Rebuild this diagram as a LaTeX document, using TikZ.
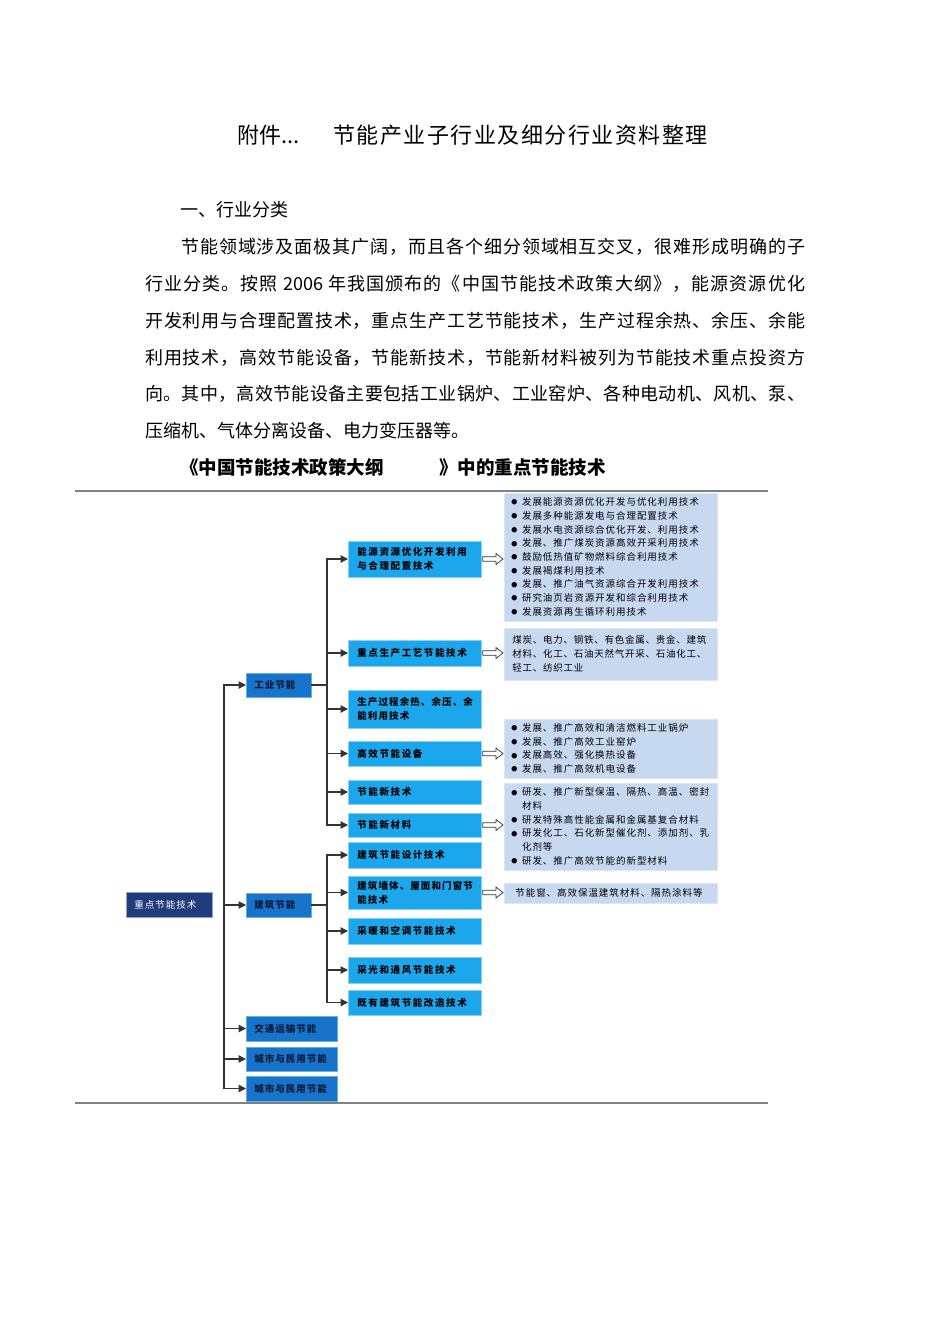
\documentclass[tikz,border=0pt]{standalone}
\usepackage{fontspec}
\setmainfont{Noto Sans CJK SC}
\newfontfamily\txtfont{Noto Sans CJK SC}
\usetikzlibrary{arrows.meta,calc}
\definecolor{rootc}{HTML}{203C7A}
\definecolor{rootedge}{HTML}{8FA2C8}
\definecolor{lonec}{HTML}{1874C8}
\definecolor{loneedge}{HTML}{66AEE8}
\definecolor{ltwoc}{HTML}{1CA6EC}
\definecolor{ltwoedge}{HTML}{88D0F4}
\definecolor{detc}{HTML}{C6D9F1}
\definecolor{detedge}{HTML}{DCE7F4}
\definecolor{linec}{HTML}{333333}
\definecolor{rulec}{HTML}{808080}
\definecolor{navytext}{HTML}{0B1A3A}
\newdimen\lsgap
\newcommand{\setls}[1]{\global\lsgap #1\relax}
\makeatletter
% letter-spaced text: a kern of \lsgap after every character
\newcommand{\ls}[1]{\@tfor\ls@tok:=#1\do{\ls@tok\kern\lsgap}\unkern}
% a line spread to a given width (justified)
\newcommand{\spreadline}[2]{\hbox to #1{\@tfor\sp@tok:=#2\do{\sp@tok\hfil}\unskip}}
\makeatother
\newcommand{\bul}{\makebox[13.7pt][l]{\hspace*{3pt}\raisebox{0.8pt}{\fontsize{6}{6}\selectfont ●}}}
\newcommand{\hollowarrow}[2]{\draw[hollow] let \p1=(#1.east), \p2=(#2.west) in
  (\x1+1pt,\y1+2.3pt) -- (\x2-8pt,\y1+2.3pt) -- (\x2-8pt,\y1+5.5pt) -- (\x2-1pt,\y1)
  -- (\x2-8pt,\y1-5.5pt) -- (\x2-8pt,\y1-2.3pt) -- (\x1+1pt,\y1-2.3pt) -- cycle;}
\begin{document}
\begin{tikzpicture}[x=1pt,y=-1pt,
  bodyfs/.style={font=\txtfont\fontsize{18}{18}\selectfont},
  bodyline/.style={bodyfs, anchor=base west, inner sep=0pt},
  capline/.style={anchor=base west, inner sep=0pt, font=\txtfont\bfseries\fontsize{18.5}{18.5}\selectfont},
  titleline/.style={anchor=base west, inner sep=0pt, font=\txtfont\fontsize{22}{22}\selectfont},
  rootbox/.style={rectangle, fill=rootc, draw=rootedge, line width=0.8pt, text=white,
    font=\txtfont\fontsize{9.5}{12}\selectfont, inner xsep=8pt, inner ysep=0pt, align=left, anchor=west},
  lonebox/.style={rectangle, fill=lonec, draw=loneedge, line width=0.8pt, text=navytext,
    font=\txtfont\bfseries\fontsize{9.5}{12}\selectfont, inner xsep=8pt, inner ysep=0pt, align=left, anchor=west},
  ltwobox/.style={rectangle, fill=ltwoc, draw=ltwoedge, line width=0.8pt, text=black,
    font=\txtfont\bfseries\fontsize{9.5}{14}\selectfont, inner xsep=9pt, inner ysep=0pt, align=left,
    anchor=west, text width=115pt},
  detbox/.style={rectangle, fill=detc, draw=detedge, line width=0.8pt, text=black,
    font=\txtfont\fontsize{9.5}{13.7}\selectfont, inner xsep=4pt, inner ysep=0pt, align=left,
    anchor=west, text width=205pt},
  conn/.style={draw=linec, line width=1.2pt, line cap=rect},
  arr/.style={draw=linec, line width=1.2pt, -{Triangle[length=7.5pt,width=7.5pt]}},
  hollow/.style={draw=linec, line width=0.7pt, fill=white, line join=miter}
]
\useasboundingbox (0,0) rectangle (950,1344);
\fill[white] (0,0) rectangle (950,1344);

% ---------- title and text ----------
\setls{1.5pt}
\node[titleline] (titleA) at (237,143.4) {附件...};
\node[titleline] (titleB) at (333,143.4) {\ls{节能产业子行业及细分行业资料整理}};

\node[bodyline] (head) at (180,216.8) {一、行业分类};

\node[bodyline] (p1) at (181,253.8) {\spreadline{624pt}{节能领域涉及面极其广阔，而且各个细分领域相互交叉，很难形成明确的子}};
\node[bodyline] (p2) at (145,290.8) {\spreadline{660pt}{行业分类。按照{\ 2006\ }年我国颁布的《中国节能技术政策大纲》，能源资源优化}};
\node[bodyline] (p3) at (145,327.8) {\spreadline{660pt}{开发利用与合理配置技术，重点生产工艺节能技术，生产过程余热、余压、余能}};
\node[bodyline] (p4) at (145,364.8) {\spreadline{660pt}{利用技术，高效节能设备，节能新技术，节能新材料被列为节能技术重点投资方}};
\node[bodyline] (p5) at (145,400.8) {\spreadline{660pt}{向。其中，高效节能设备主要包括工业锅炉、工业窑炉、各种电动机、风机、泵、}};
\node[bodyline] (p6) at (145,437.8) {压缩机、气体分离设备、电力变压器等。};

\node[capline] (capA) at (180,474) {《中国节能技术政策大纲};
\node[capline] (capB) at (439,474) {》中的重点节能技术};

\draw[rulec, line width=1.2pt] (75,491) -- (768,491);
\draw[rulec, line width=1.2pt] (75,1103) -- (768,1103);

% ---------- root and level 1 ----------
\setls{1pt}
\node[rootbox, text width=70pt, minimum height=25pt] (root) at (126,905) {\ls{重点节能技术}};
\node[lonebox, text width=49pt, minimum height=24pt] (ind) at (246,685) {\ls{工业节能}};
\node[lonebox, text width=49pt, minimum height=24pt] (bld) at (246,905) {\ls{建筑节能}};
\node[lonebox, text width=75pt, minimum height=25pt] (trn) at (246,1028.5) {\ls{交通运输节能}};
\node[lonebox, text width=75pt, minimum height=24pt] (cityA) at (246,1059) {\ls{城市与民用节能}};
\node[lonebox, text width=75pt, minimum height=25pt] (cityB) at (246,1088.5) {\ls{城市与民用节能}};

% ---------- level 2 : industry ----------
\setls{1.6pt}
\node[ltwobox, minimum height=36pt] (a1) at (348,559) {\ls{能源资源优化开发利用}\\\ls{与合理配置技术}};
\node[ltwobox, minimum height=26pt] (a2) at (348,653) {\ls{重点生产工艺节能技术}};
\node[ltwobox, minimum height=25pt] (a4) at (348,753.5) {\ls{高效节能设备}};
\node[ltwobox, minimum height=24pt] (a5) at (348,792) {\ls{节能新技术}};
\node[ltwobox, minimum height=24pt] (a6) at (348,825) {\ls{节能新材料}};

% ---------- level 2 : building ----------
\node[ltwobox, minimum height=26pt] (b1) at (348,855) {\ls{建筑节能设计技术}};
\node[ltwobox, minimum height=26pt] (b3) at (348,931) {\ls{采暖和空调节能技术}};
\node[ltwobox, minimum height=26pt] (b4) at (348,970) {\ls{采光和通风节能技术}};
\node[ltwobox, minimum height=25pt] (b5) at (348,1002.5) {\ls{既有建筑节能改造技术}};

\setls{1.1pt}
\node[ltwobox, minimum height=38pt] (a3) at (348,709) {\ls{生产过程余热、余压、余}\\\ls{能利用技术}};
\node[ltwobox, minimum height=33pt] (b2) at (348,892.5) {\ls{建筑墙体、屋面和门窗节}\\\ls{能技术}};

% ---------- detail boxes ----------
\setls{0.95pt}
\node[detbox, minimum height=128pt] (d1) at (504,557) {%
\bul\ls{发展能源资源优化开发与优化利用技术}\\
\bul\ls{发展多种能源发电与合理配置技术}\\
\bul\ls{发展水电资源综合优化开发、利用技术}\\
\bul\ls{发展、推广煤炭资源高效开采利用技术}\\
\bul\ls{鼓励低热值矿物燃料综合利用技术}\\
\bul\ls{发展褐煤利用技术}\\
\bul\ls{发展、推广油气资源综合开发利用技术}\\
\bul\ls{研究油页岩资源开发和综合利用技术}\\
\bul\ls{发展资源再生循环利用技术}};
\node[detbox, minimum height=59pt] (d3) at (504,748.5) {%
\bul\ls{发展、推广高效和清洁燃料工业锅炉}\\
\bul\ls{发展、推广高效工业窑炉}\\
\bul\ls{发展高效、强化换热设备}\\
\bul\ls{发展、推广高效机电设备}};
\node[detbox, minimum height=87pt] (d4) at (504,826.5) {%
\bul\ls{研发、推广新型保温、隔热、高温、密封}\\
\hspace*{13.7pt}\ls{材料}\\
\bul\ls{研发特殊高性能金属和金属基复合材料}\\
\bul\ls{研发化工、石化新型催化剂、添加剂、乳}\\
\hspace*{13.7pt}\ls{化剂等}\\
\bul\ls{研发、推广高效节能的新型材料}};
\node[detbox, minimum height=20pt] (d5) at (504,893) {%
\hspace*{7pt}\ls{节能窗、高效保温建筑材料、隔热涂料等}};
\setls{0.75pt}
\node[detbox, minimum height=52pt] (d2) at (504,654) {%
\hspace*{4pt}\ls{煤炭、电力、钢铁、有色金属、贵金、建筑}\\
\hspace*{4pt}\ls{材料、化工、石油天然气开采、石油化工、}\\
\hspace*{4pt}\ls{轻工、纺织工业}};

% ---------- connectors ----------
\coordinate (trunk) at (224,685);
\coordinate (ibus) at (327,685);
\coordinate (bbus) at (327,905);

\draw[conn] (trunk |- ind.west) -- (trunk |- cityB.west);
\foreach \n in {ind,bld,trn,cityA,cityB}
  \draw[arr] (trunk |- \n.west) -- (\n.west);

\draw[conn] (ind.east) -- (ibus |- ind.east);
\draw[conn] (ibus |- a1.west) -- (ibus |- a6.west);
\foreach \n in {a1,a2,a3,a4,a5,a6}
  \draw[arr] (ibus |- \n.west) -- (\n.west);

\draw[conn] (bld.east) -- (bbus |- bld.east);
\draw[conn] (bbus |- b1.west) -- (bbus |- b5.west);
\foreach \n in {b1,b2,b3,b4,b5}
  \draw[arr] (bbus |- \n.west) -- (\n.west);

\hollowarrow{a1}{d1}
\hollowarrow{a2}{d2}
\hollowarrow{a4}{d3}
\hollowarrow{a6}{d4}
\hollowarrow{b2}{d5}
\end{tikzpicture}
\end{document}
